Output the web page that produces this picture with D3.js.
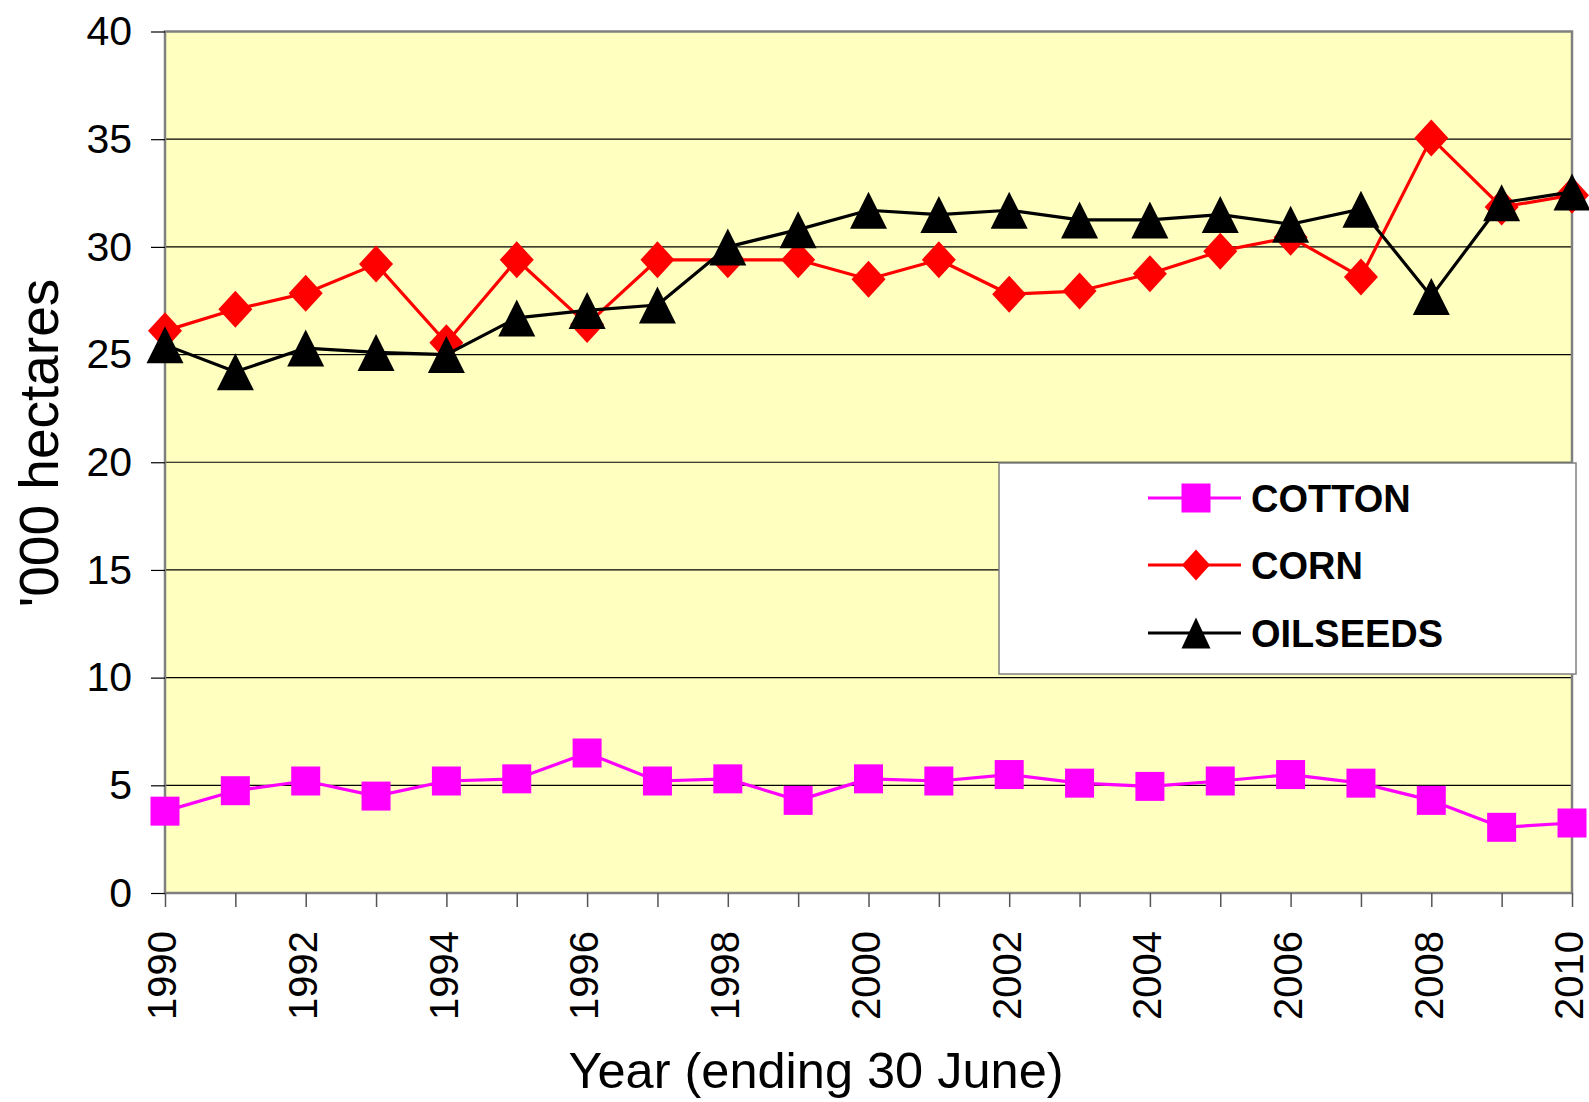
<!DOCTYPE html>
<html>
<head>
<meta charset="utf-8">
<script src="https://cdn.jsdelivr.net/npm/d3@7"></script>
<style>
  body { margin: 0; background: #fff; }
  svg { display: block; font-family: "Liberation Sans", Arial, sans-serif; }
</style>
</head>
<body>
<svg id="chart" width="1589" height="1102"></svg>
<script>
// data ('000 hectares)
var years = [1990, 1991, 1992, 1993, 1994, 1995, 1996, 1997, 1998, 1999, 2000,
             2001, 2002, 2003, 2004, 2005, 2006, 2007, 2008, 2009, 2010];
var cotton = [3.8, 4.75, 5.2, 4.5, 5.2, 5.3, 6.5, 5.2, 5.3, 4.3, 5.3,
              5.2, 5.5, 5.1, 4.95, 5.2, 5.5, 5.1, 4.3, 3.05, 3.25];
var corn = [26.1, 27.1, 27.85, 29.2, 25.55, 29.4, 26.4, 29.4, 29.4, 29.4, 28.5,
            29.4, 27.8, 27.95, 28.75, 29.8, 30.45, 28.6, 35.05, 31.85, 32.4];
var oilseeds = [25.45, 24.2, 25.3, 25.1, 25.0, 26.7, 27.05, 27.3, 30.0, 30.8, 31.7,
                31.5, 31.7, 31.25, 31.25, 31.5, 31.05, 31.75, 27.7, 32.05, 32.55];
var seriesNames = ["COTTON", "CORN", "OILSEEDS"];
var yTicks = [0, 5, 10, 15, 20, 25, 30, 35, 40];
var xLabelYears = [1990, 1992, 1994, 1996, 1998, 2000, 2002, 2004, 2006, 2008, 2010];

var svg = d3.select("#chart");
var plot = { left: 165, right: 1572, top: 31.5, bottom: 893 };

var x = d3.scaleLinear().domain([1990, 2010]).range([plot.left, plot.right]);
var y = d3.scaleLinear().domain([0, 40]).range([plot.bottom, plot.top]);

// marker shapes
function square(s) {
  return "M" + (-s / 2) + "," + (-s / 2) + "h" + s + "v" + s + "h" + (-s) + "Z";
}
function diamond(w, h) {
  return "M0," + (-h / 2) + "L" + (w / 2) + ",0L0," + (h / 2) + "L" + (-w / 2) + ",0Z";
}
function triangle(w, h) {
  return "M0," + (-h / 2) + "L" + (w / 2) + "," + (h / 2) + "L" + (-w / 2) + "," + (h / 2) + "Z";
}

var series = [
  { name: seriesNames[0], values: cotton, color: "#ff00ff", marker: square(29), legendMarker: square(29) },
  { name: seriesNames[1], values: corn, color: "#ff0000", marker: diamond(34, 37), legendMarker: diamond(28, 31) },
  { name: seriesNames[2], values: oilseeds, color: "#000000", marker: triangle(37, 37), legendMarker: triangle(29, 31) }
];

// plot background
svg.append("rect")
  .attr("x", plot.left).attr("y", plot.top)
  .attr("width", plot.right - plot.left).attr("height", plot.bottom - plot.top)
  .attr("fill", "#ffffc0");

// gridlines
svg.append("g").selectAll("line").data(yTicks.filter(function (d) { return d > 0 && d < 40; }))
  .enter().append("line")
  .attr("x1", plot.left).attr("x2", plot.right)
  .attr("y1", function (d) { return y(d); }).attr("y2", function (d) { return y(d); })
  .attr("stroke", "#000").attr("stroke-width", 1.2);

// plot border
svg.append("rect")
  .attr("x", plot.left).attr("y", plot.top)
  .attr("width", plot.right - plot.left).attr("height", plot.bottom - plot.top)
  .attr("fill", "none").attr("stroke", "#808080").attr("stroke-width", 2.5);

// y axis
var yAxis = svg.append("g")
  .attr("transform", "translate(" + plot.left + ",0)")
  .call(d3.axisLeft(y).tickValues(yTicks).tickSize(14).tickPadding(19));
yAxis.select(".domain").remove();
yAxis.selectAll(".tick line").attr("stroke", "#000").attr("stroke-width", 1.2);
yAxis.selectAll(".tick text")
  .attr("font-family", "Liberation Sans, Arial, sans-serif")
  .attr("font-size", 41).attr("fill", "#000");

// x axis: tick every year, label every second year
var xAxis = svg.append("g")
  .attr("transform", "translate(0," + plot.bottom + ")")
  .call(d3.axisBottom(x).tickValues(years).tickSize(14)
    .tickFormat(function (d) { return xLabelYears.indexOf(d) >= 0 ? d : ""; }));
xAxis.select(".domain").remove();
xAxis.selectAll(".tick line").attr("stroke", "#555").attr("stroke-width", 1.5);
xAxis.selectAll(".tick text")
  .attr("font-family", "Liberation Sans, Arial, sans-serif")
  .attr("font-size", 40).attr("fill", "#000")
  .attr("text-anchor", "end")
  .attr("transform", "rotate(-90)")
  .attr("x", -38).attr("y", 0).attr("dy", "0.27em");

// series lines and markers
var line = d3.line()
  .x(function (d, i) { return x(years[i]); })
  .y(function (d) { return y(d); });

series.forEach(function (s) {
  svg.append("path")
    .datum(s.values)
    .attr("d", line)
    .attr("fill", "none")
    .attr("stroke", s.color)
    .attr("stroke-width", 3.2)
    .attr("stroke-linejoin", "round");
  svg.append("g").selectAll("path").data(s.values).enter().append("path")
    .attr("d", s.marker)
    .attr("transform", function (d, i) { return "translate(" + x(years[i]) + "," + y(d) + ")"; })
    .attr("fill", s.color);
});

// axis titles
svg.append("text")
  .attr("transform", "translate(58,443) rotate(-90)")
  .attr("text-anchor", "middle")
  .attr("font-size", 55)
  .text("'000 hectares");

svg.append("text")
  .attr("x", 816).attr("y", 1088)
  .attr("text-anchor", "middle")
  .attr("font-size", 50.5)
  .text("Year (ending 30 June)");

// legend
var legend = svg.append("g");
legend.append("rect")
  .attr("x", 999).attr("y", 463).attr("width", 577).attr("height", 211)
  .attr("fill", "#fff").attr("stroke", "#808080").attr("stroke-width", 1.5);

var legendRows = [498, 565, 633];
series.forEach(function (s, i) {
  var g = legend.append("g").attr("transform", "translate(0," + legendRows[i] + ")");
  g.append("line")
    .attr("x1", 1148).attr("x2", 1241).attr("y1", 0).attr("y2", 0)
    .attr("stroke", s.color).attr("stroke-width", 3);
  g.append("path").attr("d", s.legendMarker)
    .attr("transform", "translate(1196,0)").attr("fill", s.color);
  g.append("text")
    .attr("x", 1251).attr("y", 0).attr("dy", "0.36em")
    .attr("font-size", 38).attr("font-weight", "bold")
    .text(s.name);
});
</script>
</body>
</html>
